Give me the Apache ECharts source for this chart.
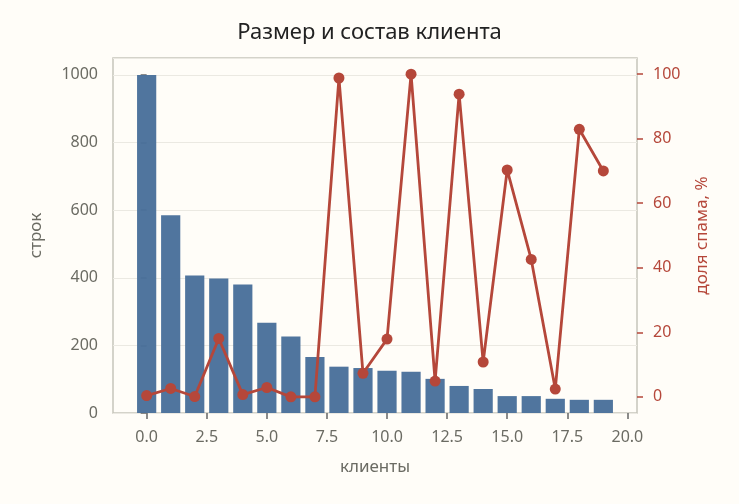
<!DOCTYPE html>
<html>
<head>
    <meta charset="utf-8">
    <title>Размер и состав клиента</title>
    <script src="https://cdn.jsdelivr.net/npm/echarts@6/dist/echarts.min.js"></script>
</head>
<body style="margin:0;background:#fffdf8;">
<div id="main" style="width: 739px;height:504px;"></div>
<script type="text/javascript">
    // клиенты 0..19
    var clients = [0, 1, 2, 3, 4, 5, 6, 7, 8, 9, 10, 11, 12, 13, 14, 15, 16, 17, 18, 19];
    // число строк на клиента
    var rows = [1000, 585, 407, 398, 380, 267, 226, 166, 137, 133, 125, 122, 101, 80, 71, 50, 50, 42, 39, 39];
    // доля спама, %
    var spamShare = [0.4, 2.6, 0.1, 18.1, 0.7, 2.9, 0, 0, 98.8, 7.3, 17.9, 100, 4.9, 93.8, 10.8, 70.3, 42.6, 2.4, 82.9, 70];
    var xTicks = [0, 2.5, 5, 7.5, 10, 12.5, 15, 17.5, 20];
    var spamTicks = [0, 20, 40, 60, 80, 100];

    var fontName = 'Noto Sans';
    var grey = '#6b6b63';
    var red = '#b5473a';

    var myChart = echarts.init(document.getElementById('main'));
    var option = {
        backgroundColor: '#fffdf8',
        textStyle: {fontFamily: fontName},
        title: {
            text: 'Размер и состав клиента',
            left: 'center',
            top: 17,
            textStyle: {fontFamily: fontName, fontSize: 22, fontWeight: 'normal', color: '#222'}
        },
        grid: {left: 113, right: 102, top: 58, bottom: 91, show: true, borderColor: '#c6c5ba', borderWidth: 1.5, backgroundColor: 'transparent'},
        xAxis: {
            type: 'value',
            min: -1.4,
            max: 20.4,
            name: 'клиенты',
            nameLocation: 'middle',
            nameGap: 46,
            nameTextStyle: {fontSize: 17, color: grey},
            axisLine: {show: false},
            axisTick: {show: true, length: 6, lineStyle: {color: '#666', width: 1.5}, customValues: xTicks},
            axisLabel: {
                color: grey, fontSize: 16, margin: 16, customValues: xTicks,
                formatter: function (v) { return v.toFixed(1); }
            },
            splitLine: {show: false}
        },
        yAxis: [{
            type: 'value',
            min: 0,
            max: 1050,
            interval: 200,
            name: 'строк',
            nameLocation: 'middle',
            nameGap: 68,
            nameRotate: 90,
            nameTextStyle: {fontSize: 17, color: grey},
            axisLine: {show: false},
            axisTick: {show: true, length: 6, lineStyle: {color: '#666', width: 1.5}},
            axisLabel: {
                color: grey, fontSize: 16, margin: 15, showMaxLabel: false,
                formatter: function (v) { return String(v); }
            },
            splitLine: {lineStyle: {color: '#ebe9e2', width: 1}}
        }, {
            type: 'value',
            position: 'right',
            min: -5,
            max: 105,
            name: 'доля спама, %',
            nameLocation: 'middle',
            nameGap: 57,
            nameRotate: 90,
            nameTextStyle: {fontSize: 17, color: red},
            axisLine: {show: false},
            axisTick: {show: true, length: 6, lineStyle: {color: red, width: 1.5}, customValues: spamTicks},
            axisLabel: {color: red, fontSize: 16, margin: 16, customValues: spamTicks},
            splitLine: {show: false}
        }],
        series: [{
            name: 'строк',
            type: 'bar',
            barWidth: 19.2,
            itemStyle: {color: '#4a719b', opacity: 0.97},
            data: clients.map(function (c, i) { return [c, rows[i]]; })
        }, {
            name: 'доля спама, %',
            type: 'line',
            yAxisIndex: 1,
            symbol: 'circle',
            symbolSize: 11,
            lineStyle: {color: red, width: 2.8},
            itemStyle: {color: red},
            data: clients.map(function (c, i) { return [c, spamShare[i]]; })
        }]
    };
    myChart.setOption(option);
</script>
</body>
</html>
